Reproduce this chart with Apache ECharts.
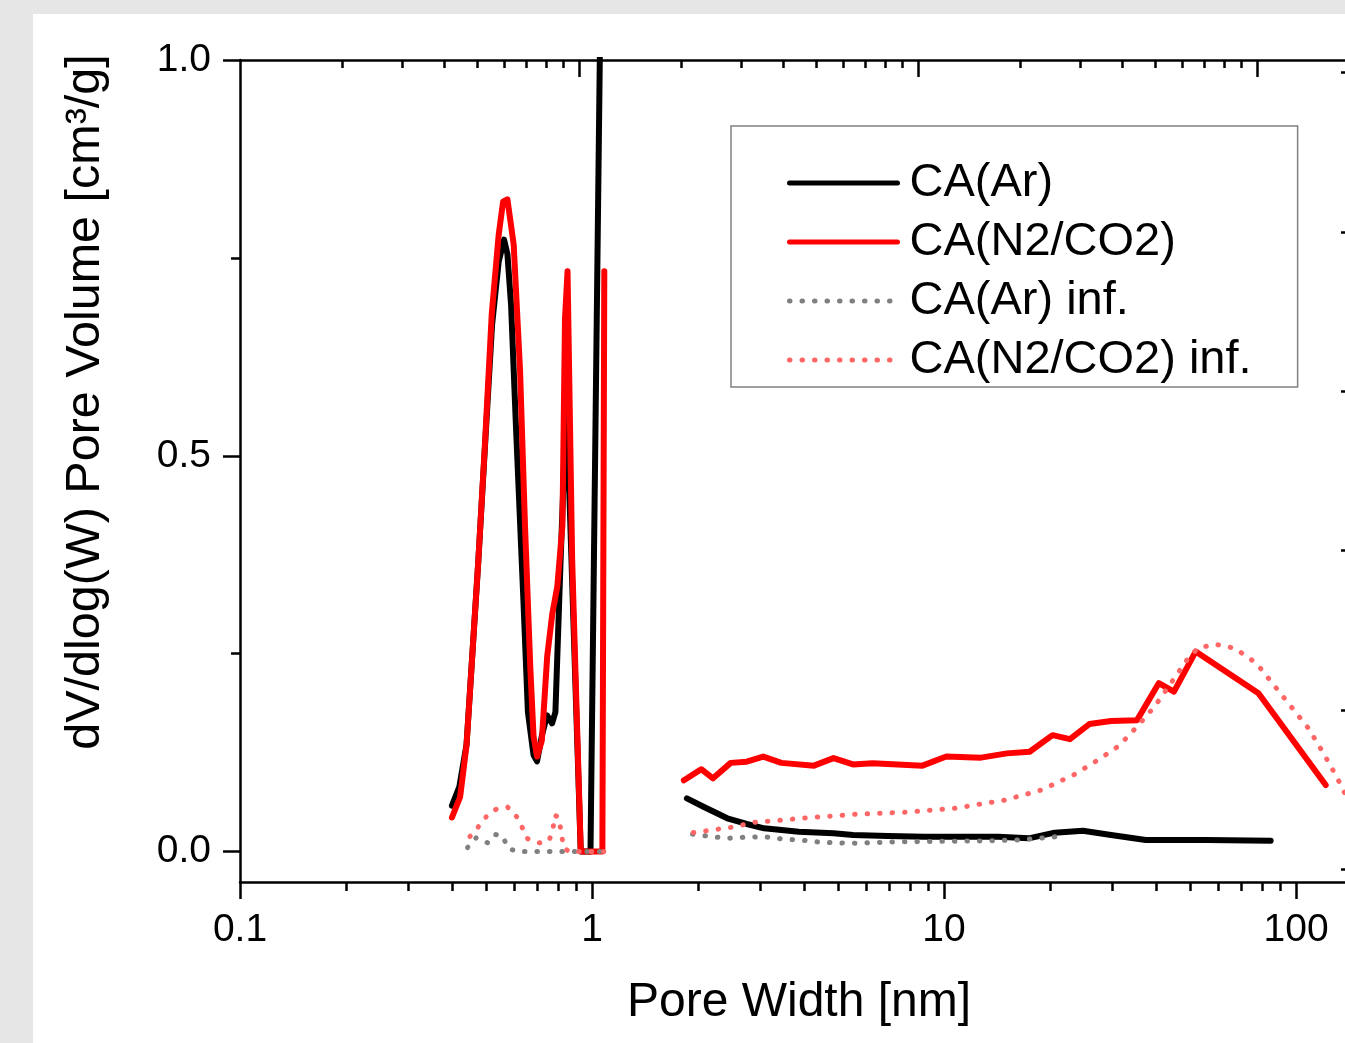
<!DOCTYPE html>
<html><head><meta charset="utf-8">
<script src="https://cdn.jsdelivr.net/npm/echarts@6/dist/echarts.min.js"></script>
<style>
html,body{margin:0;padding:0;overflow:hidden;background:#e6e6e6;width:1345px;height:1043px;}
#chart{position:absolute;left:33px;top:14px;width:1320px;height:1029px;background:#fff;}
</style></head><body><div id="chart"></div>
<script>
const FONT = '"Liberation Sans", Arial, Helvetica, sans-serif';

// ---- tick values ----
const xTicksMajor = [0.1, 1, 10, 100];
const xTicksMinor = [0.2, 0.3, 0.4, 0.5, 0.6, 0.7, 0.8, 0.9, 2, 3, 4, 5, 6, 7, 8, 9, 20, 30, 40, 50, 60, 70, 80, 90];
const xTopMajor = [1, 10, 100];
const yTicksMajor = [0, 0.5, 1.0];
const yTicksMinor = [0.25, 0.75];
const rightTicks = [0, 1, 2, 3, 4, 5];

// ---- legend names ----
const names = ['CA(Ar)', 'CA(N2/CO2)', 'CA(Ar) inf.', 'CA(N2/CO2) inf.'];

// ---- CA(Ar) ----
const arMicroW = [0.40, 0.42, 0.44, 0.455, 0.475, 0.497, 0.52, 0.543, 0.5625, 0.575, 0.589, 0.609, 0.6375, 0.6575, 0.682, 0.698, 0.72, 0.745, 0.77, 0.787, 0.812, 0.835, 0.848, 0.929, 0.99, 1.065];
const arMicroV = [0.058, 0.082, 0.135, 0.235, 0.365, 0.515, 0.665, 0.745, 0.773, 0.755, 0.69, 0.53, 0.324, 0.176, 0.122, 0.114, 0.146, 0.172, 0.162, 0.176, 0.353, 0.50, 0.553, 0, 0, 1.2];
const arMesoW = [1.86, 2.073, 2.422, 2.751, 3.083, 3.868, 4.853, 5.513, 6.918, 8.804, 11.37, 14.27, 17.39, 20.62, 24.8, 29.82, 37.41, 55.65, 84.7];
const arMesoV = [0.0672, 0.0566, 0.042, 0.0348, 0.0293, 0.025, 0.023, 0.0209, 0.0196, 0.0187, 0.0187, 0.0187, 0.0167, 0.0238, 0.0263, 0.0209, 0.0145, 0.0145, 0.0137];

// ---- CA(N2/CO2) ----
const nMicroW = [0.40, 0.422, 0.44, 0.455, 0.475, 0.497, 0.519, 0.543, 0.559, 0.575, 0.599, 0.6245, 0.645, 0.6675, 0.682, 0.698, 0.72, 0.746, 0.771, 0.797, 0.824, 0.838, 0.852, 0.878, 0.929, 1.07, 1.0836];
const nMicroV = [0.043, 0.069, 0.134, 0.235, 0.365, 0.519, 0.679, 0.779, 0.821, 0.824, 0.767, 0.608, 0.412, 0.235, 0.146, 0.12, 0.14, 0.247, 0.30, 0.335, 0.412, 0.673, 0.733, 0.37, 0, 0, 0.733];
const nMesoW = [1.824, 2.043, 2.206, 2.477, 2.751, 3.065, 3.452, 4.27, 4.853, 5.513, 6.265, 8.684, 10.15, 12.73, 15.09, 17.5, 20.33, 22.78, 25.87, 29.82, 35.34, 40.73, 44.99, 51.85, 78.2, 121.4];
const nMesoV = [0.090, 0.104, 0.0925, 0.112, 0.1135, 0.12, 0.112, 0.1085, 0.118, 0.110, 0.1115, 0.1085, 0.12, 0.1186, 0.124, 0.126, 0.147, 0.142, 0.161, 0.165, 0.166, 0.2126, 0.202, 0.2526, 0.20, 0.084];

// ---- CA(Ar) inf. ----
const arInfMicroW = [0.443, 0.469, 0.5055, 0.531, 0.558, 0.575, 0.609, 0.70, 0.80, 0.90, 1.0, 1.085];
const arInfMicroV = [0.005, 0.0175, 0.011, 0.0215, 0.0196, 0.005, 0, 0, 0, 0, 0, 0];
const arInfMesoW = [1.93, 2.04, 2.2, 2.42, 2.7, 3.08, 3.45, 3.95, 4.5, 5.44, 6.3, 7.0, 8.5, 10.5, 13, 16, 19, 21.8];
const arInfMesoV = [0.022, 0.0205, 0.0187, 0.0167, 0.018, 0.0187, 0.016, 0.0142, 0.0116, 0.0104, 0.0112, 0.012, 0.0125, 0.013, 0.0135, 0.0145, 0.017, 0.0196];

// ---- CA(N2/CO2) inf. ----
const nInfMicroW = [0.45, 0.478, 0.504, 0.538, 0.576, 0.611, 0.634, 0.657, 0.71, 0.756, 0.775, 0.785, 0.803, 0.816, 0.83, 0.86, 1.08];
const nInfMicroV = [0.019, 0.0325, 0.0456, 0.0544, 0.056, 0.044, 0.030, 0.016, 0.011, 0.014, 0.030, 0.046, 0.043, 0.027, 0.005, 0, 0];
const nInfMesoW = [1.94, 2.12, 2.49, 2.93, 3.4, 4.03, 5.59, 7.75, 10.75, 14.88, 18.93, 23.62, 27.38, 31.37, 35.34, 39.6, 44.1, 48.98, 52.57, 58.9, 66.9, 77.1, 86.4, 96.8, 108.4, 119.7, 130.3, 150];
const nInfMesoV = [0.024, 0.0263, 0.0306, 0.0373, 0.0394, 0.0424, 0.047, 0.0496, 0.0546, 0.065, 0.0778, 0.098, 0.1157, 0.1334, 0.1578, 0.183, 0.2126, 0.242, 0.2569, 0.262, 0.2569, 0.238, 0.2105, 0.183, 0.1557, 0.124, 0.0946, 0.04];

function pairs(w, v) { return w.map((x, i) => [x, v[i]]); }

const solid = (c) => ({ color: c, width: 6, type: 'solid', cap: 'round', join: 'round' });
const dotted = (c) => ({ color: c, width: 5, type: [0.5, 12], cap: 'round', join: 'round' });

function line(name, w, v, ls) {
  return {
    type: 'line', name: name, data: pairs(w, v), xAxisIndex: 0, yAxisIndex: 0,
    symbol: 'none', showSymbol: false, clip: true, silent: true, animation: false,
    lineStyle: ls, itemStyle: { color: ls.color }
  };
}

const BLACK = '#000000', RED = '#ff0000', GRAY = '#808080', LRED = '#ff6666';
const axisLineStyle = { color: '#000', width: 2.5 };

const option = {
  animation: false,
  grid: { left: 207, right: 3, top: 46, bottom: 161, show: false },
  legend: {
    orient: 'vertical', left: 698, top: 112,
    padding: [32, 46, 2, 56],
    itemWidth: 108, itemHeight: 20, itemGap: 9,
    borderColor: '#808080', borderWidth: 1.5, backgroundColor: '#fff',
    selectedMode: false,
    itemStyle: { opacity: 0 },
    textStyle: { fontSize: 47, fontFamily: FONT, color: '#000', lineHeight: 50, padding: [0, 0, 0, 7] },
    lineStyle: { width: 5 },
    data: names
  },
  xAxis: [
    {
      type: 'log', logBase: 10, position: 'bottom', min: 0.1, max: 142.3,
      axisLine: { show: true, onZero: false, lineStyle: axisLineStyle },
      axisTick: { show: true, inside: false, length: 17, lineStyle: axisLineStyle, customValues: xTicksMajor },
      axisLabel: { show: true, customValues: xTicksMajor, margin: 29, fontSize: 39, fontFamily: FONT, color: '#000',
        formatter: (v) => String(+v.toPrecision(3)) },
      splitLine: { show: false }, minorTick: { show: false },
      name: 'Pore Width [nm]', nameLocation: 'middle', nameGap: 97,
      nameTextStyle: { fontSize: 48, fontFamily: FONT, color: '#000', padding: [0, 0, 0, 8] }
    },
    {
      type: 'log', logBase: 10, position: 'bottom', min: 0.1, max: 142.3,
      axisLine: { show: false, onZero: false },
      axisTick: { show: true, inside: false, length: 9, lineStyle: axisLineStyle, customValues: xTicksMinor },
      axisLabel: { show: false }, splitLine: { show: false }
    },
    {
      type: 'log', logBase: 10, position: 'top', min: 0.1, max: 188,
      axisLine: { show: true, onZero: false, lineStyle: axisLineStyle },
      axisTick: { show: true, inside: true, length: 17, lineStyle: axisLineStyle, customValues: xTopMajor },
      axisLabel: { show: false }, splitLine: { show: false }
    },
    {
      type: 'log', logBase: 10, position: 'top', min: 0.1, max: 188,
      axisLine: { show: false, onZero: false },
      axisTick: { show: true, inside: true, length: 8, lineStyle: axisLineStyle, customValues: xTicksMinor },
      axisLabel: { show: false }, splitLine: { show: false }
    }
  ],
  yAxis: [
    {
      type: 'value', position: 'left', min: -0.0385, max: 1.0,
      axisLine: { show: true, onZero: false, lineStyle: axisLineStyle },
      axisTick: { show: true, inside: false, length: 17, lineStyle: axisLineStyle, customValues: yTicksMajor },
      axisLabel: { show: true, customValues: yTicksMajor, margin: 29, fontSize: 39, fontFamily: FONT, color: '#000',
        formatter: (v) => Number(v).toFixed(1) },
      splitLine: { show: false }
    },
    {
      type: 'value', position: 'left', min: -0.0385, max: 1.0,
      axisLine: { show: false, onZero: false },
      axisTick: { show: true, inside: false, length: 9, lineStyle: axisLineStyle, customValues: yTicksMinor },
      axisLabel: { show: false }, splitLine: { show: false }
    },
    {
      type: 'value', position: 'right', min: -0.08, max: 5.08,
      axisLine: { show: true, onZero: false, lineStyle: axisLineStyle },
      axisTick: { show: true, inside: true, length: 9, lineStyle: axisLineStyle, customValues: rightTicks },
      axisLabel: { show: false }, splitLine: { show: false }
    }
  ],
  graphic: [{
    type: 'text', x: 53, y: 388, rotation: Math.PI / 2, silent: true,
    style: { text: 'dV/dlog(W) Pore Volume [cm³/g]', font: '48.5px ' + FONT, fill: '#000',
      textAlign: 'center', textVerticalAlign: 'middle' }
  }],
  series: [
    line(names[0], arMicroW, arMicroV, solid(BLACK)),
    line(names[0], arMesoW, arMesoV, solid(BLACK)),
    line(names[1], nMicroW, nMicroV, solid(RED)),
    line(names[1], nMesoW, nMesoV, solid(RED)),
    line(names[2], arInfMicroW, arInfMicroV, dotted(GRAY)),
    line(names[2], arInfMesoW, arInfMesoV, dotted(GRAY)),
    line(names[3], nInfMicroW, nInfMicroV, dotted(LRED)),
    line(names[3], nInfMesoW, nInfMesoV, dotted(LRED))
  ]
};

const chart = echarts.init(document.getElementById('chart'), null, { renderer: 'canvas' });
chart.setOption(option);
</script></body></html>
